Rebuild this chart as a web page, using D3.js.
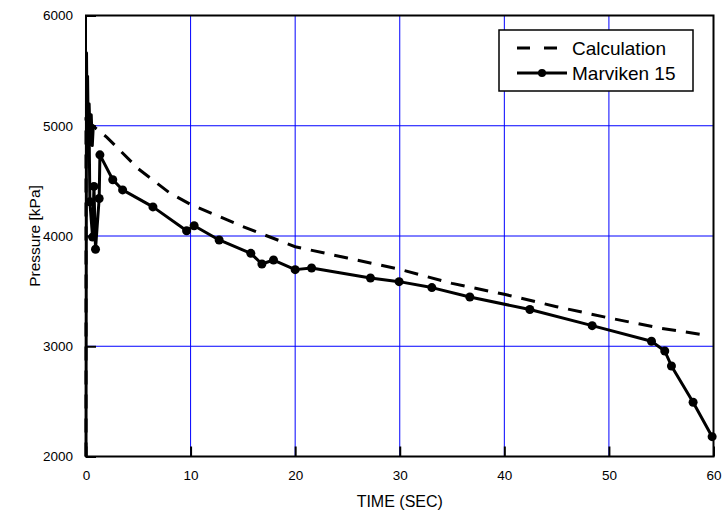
<!DOCTYPE html>
<html>
<head>
<meta charset="utf-8">
<script src="https://cdn.jsdelivr.net/npm/d3@7"></script>
<style>
  body { margin: 0; background: #fff; }
  svg text { font-family: 'Liberation Sans', Arial, sans-serif; fill: #000; }
</style>
</head>
<body>
<div id="chart"></div>
<script>
(function () {
'use strict';

var xTicks = [0, 10, 20, 30, 40, 50, 60],
    yTicks = [2000, 3000, 4000, 5000, 6000];

// calculation curve
var calcTime = [0, 0, 0.5, 2, 5, 8, 10, 15, 20, 25, 30, 35, 40, 45, 50, 55, 58.7],
    calcPressure = [2000, 5050, 5010, 4895, 4610, 4390, 4287, 4085, 3903, 3800, 3698, 3570, 3471, 3359, 3257, 3163, 3109];

// Marviken 15: initial spike (no markers), then measured points
var spikeTime = [0, 0.05, 0.1, 0.15, 0.22, 0.3, 0.4, 0.5, 0.6, 0.7, 0.5, 0.3],
    spikePressure = [2000, 5660, 5000, 5450, 4900, 5200, 4850, 5100, 4820, 5000, 4880, 4950];

var testTime = [0.37, 0.63, 0.76, 0.91, 1.26, 1.33, 2.56, 3.5, 6.4, 9.62, 10.34, 12.73, 15.76, 16.82, 17.93,
                20.0, 21.57, 27.2, 29.94, 33.07, 36.7, 42.44, 48.4, 54.07, 55.34, 55.98, 58.05, 59.87],
    testPressure = [4310, 3990, 4450, 3880, 4340, 4736, 4510, 4418, 4264, 4048, 4093, 3964, 3843, 3746, 3782,
                    3695, 3710, 3619, 3586, 3532, 3447, 3333, 3187, 3045, 2957, 2821, 2492, 2180];

var legendNames = ['Calculation', 'Marviken 15'];

var width = 725, height = 518;
var margin = {top: 15.5, right: 11.5, bottom: 61.5, left: 86};

var svg = d3.select('#chart').append('svg')
    .attr('width', width)
    .attr('height', height);

var x = d3.scaleLinear().domain([0, 60]).range([margin.left, width - margin.right]);
var y = d3.scaleLinear().domain([2000, 6000]).range([height - margin.bottom, margin.top]);

// grid lines
svg.append('g').selectAll('line')
  .data(xTicks.slice(1, -1))
  .enter().append('line')
  .attr('x1', function(d) { return x(d); })
  .attr('x2', function(d) { return x(d); })
  .attr('y1', y(2000)).attr('y2', y(6000))
  .attr('stroke', '#0000ff').attr('stroke-width', 1);

svg.append('g').selectAll('line')
  .data(yTicks.slice(1, -1))
  .enter().append('line')
  .attr('y1', function(d) { return y(d); })
  .attr('y2', function(d) { return y(d); })
  .attr('x1', x(0)).attr('x2', x(60))
  .attr('stroke', '#0000ff').attr('stroke-width', 1);

// axes with inward ticks
var xAxis = svg.append('g')
  .attr('transform', 'translate(0,' + y(2000) + ')')
  .call(d3.axisBottom(x).tickValues(xTicks).tickSize(-10).tickPadding(14));
var yAxis = svg.append('g')
  .attr('transform', 'translate(' + x(0) + ',0)')
  .call(d3.axisLeft(y).tickValues(yTicks).tickSize(-10).tickPadding(13).tickFormat(d3.format('d')));

[xAxis, yAxis].forEach(function(a) {
  a.select('.domain').remove();
  a.selectAll('.tick line').attr('stroke', '#000').attr('stroke-width', 2);
  a.selectAll('.tick text').style('font-size', '13.5px').attr('fill', '#000');
});

// frame
svg.append('rect')
  .attr('x', x(0)).attr('y', y(6000))
  .attr('width', x(60) - x(0)).attr('height', y(2000) - y(6000))
  .attr('fill', 'none').attr('stroke', '#000').attr('stroke-width', 2);

var line = d3.line()
  .x(function(d) { return x(d[0]); })
  .y(function(d) { return y(d[1]); });

var calc = d3.zip(calcTime, calcPressure);
var spike = d3.zip(spikeTime, spikePressure);
var test = d3.zip(testTime, testPressure);

svg.append('path')
  .datum(calc)
  .attr('d', line)
  .attr('fill', 'none')
  .attr('stroke', '#000')
  .attr('stroke-width', 3)
  .attr('stroke-dasharray', '14,10');

svg.append('path')
  .datum(spike.concat(test))
  .attr('d', line)
  .attr('fill', 'none')
  .attr('stroke', '#000')
  .attr('stroke-width', 3)
  .attr('stroke-linejoin', 'round');

svg.append('g').selectAll('circle')
  .data(test)
  .enter().append('circle')
  .attr('cx', function(d) { return x(d[0]); })
  .attr('cy', function(d) { return y(d[1]); })
  .attr('r', 4.5)
  .attr('fill', '#000');

// axis titles
svg.append('text')
  .attr('x', (x(0) + x(60)) / 2)
  .attr('y', 507)
  .attr('text-anchor', 'middle')
  .style('font-size', '16px')
  .text('TIME (SEC)');

svg.append('text')
  .attr('transform', 'translate(35,' + y(4000) + ') rotate(-90)')
  .attr('text-anchor', 'middle')
  .attr('dy', '0.35em')
  .style('font-size', '15.5px')
  .text('Pressure [kPa]');

// legend
var legend = svg.append('g').attr('transform', 'translate(499,30)');
legend.append('rect')
  .attr('width', 194).attr('height', 61)
  .attr('fill', '#fff').attr('stroke', '#000').attr('stroke-width', 1.5);

legend.append('line')
  .attr('x1', 18).attr('x2', 58).attr('y1', 18).attr('y2', 18)
  .attr('stroke', '#000').attr('stroke-width', 3).attr('stroke-dasharray', '13,14');
legend.append('line')
  .attr('x1', 18).attr('x2', 68).attr('y1', 43).attr('y2', 43)
  .attr('stroke', '#000').attr('stroke-width', 3);
legend.append('circle')
  .attr('cx', 43).attr('cy', 43).attr('r', 4)
  .attr('fill', '#000');

legend.selectAll('text.name')
  .data(legendNames)
  .enter().append('text')
  .attr('class', 'name')
  .attr('x', 73)
  .attr('y', function(d, i) { return 18 + i * 25; })
  .attr('dy', '0.35em')
  .style('font-size', '19px')
  .text(function(d) { return d; });

})();
</script>
</body>
</html>
